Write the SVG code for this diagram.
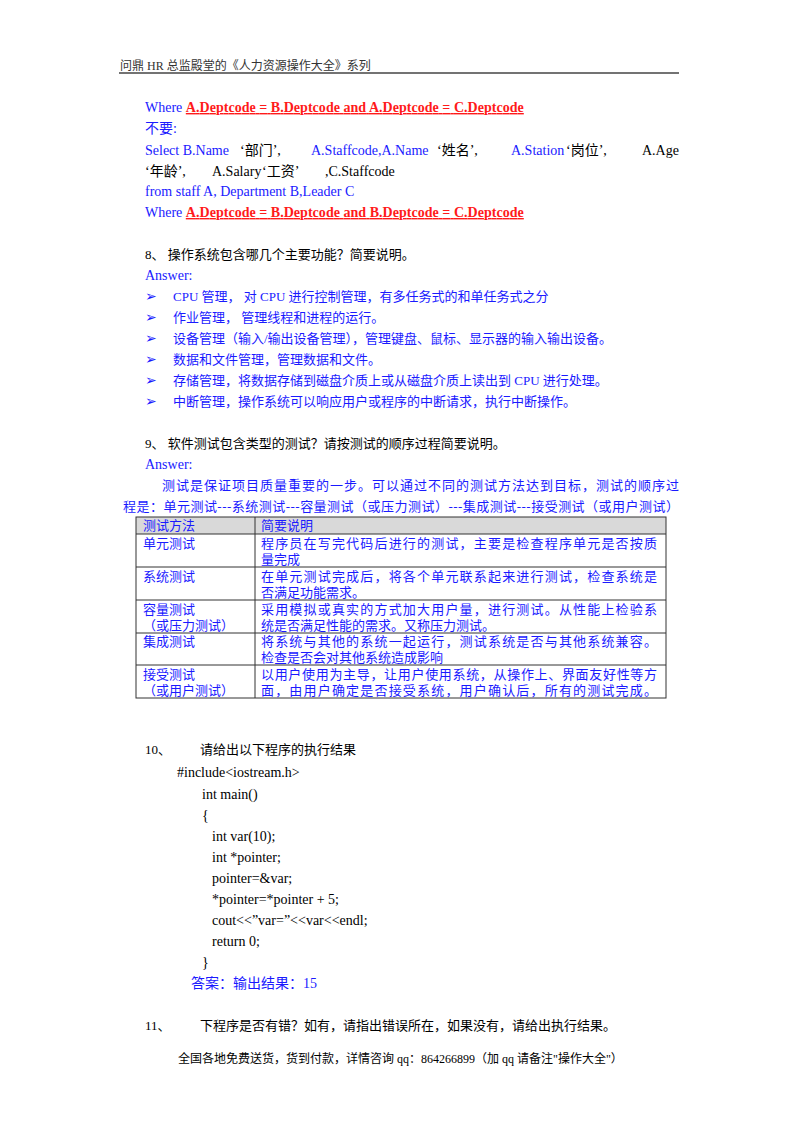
<svg xmlns="http://www.w3.org/2000/svg" width="800" height="1132" viewBox="0 0 800 1132">
<style>
text{font-family:"Liberation Serif","Noto Sans CJK SC",serif;font-size:14px;fill:#000}
.b{fill:#1a1aff}.r{fill:#ff1a1a;font-weight:bold;text-decoration:underline}
.s{font-size:13px}
line.g{stroke:#333;stroke-width:1}
</style>
<rect width="800" height="1132" fill="#fff"/>
<text x="120" y="70" style="font-size:12px;fill:#333">问鼎 HR 总监殿堂的《人力资源操作大全》系列</text>
<line x1="119" y1="73" x2="679" y2="73" stroke="#444" stroke-width="1.5"/>
<text x="145" y="112"><tspan class="b">Where </tspan><tspan class="r" textLength="338" lengthAdjust="spacing">A.Deptcode = B.Deptcode and A.Deptcode = C.Deptcode</tspan></text>
<text x="145" y="133" class="b">不要:</text>
<text x="145" y="155" class="b">Select B.Name</text><text x="240" y="155">‘部门’,</text>
<text x="311" y="155" class="b">A.Staffcode,A.Name</text><text x="437" y="155">‘姓名’,</text>
<text x="511" y="155" class="b">A.Station</text><text x="566" y="155">‘岗位’,</text><text x="642" y="155">A.Age</text>
<text x="145" y="176">‘年龄’,</text><text x="212" y="176">A.Salary</text><text x="262" y="176">‘工资’</text><text x="325" y="176">,C.Staffcode</text>
<text x="145" y="196" class="b">from staff  A,  Department  B,Leader C</text>
<text x="145" y="217"><tspan class="b">Where </tspan><tspan class="r" textLength="338" lengthAdjust="spacing">A.Deptcode = B.Deptcode and B.Deptcode = C.Deptcode</tspan></text>
<text x="145" y="259" class="s">8、 操作系统包含哪几个主要功能？简要说明。</text>
<text x="145" y="280" class="b">Answer:</text>
<g>
<text x="145" y="301" class="b">➢</text><text x="173" y="301" class="b s">CPU 管理，  对 CPU 进行控制管理，有多任务式的和单任务式之分</text>
<text x="145" y="322" class="b">➢</text><text x="173" y="322" class="b s">作业管理，  管理线程和进程的运行。</text>
<text x="145" y="343" class="b">➢</text><text x="173" y="343" class="b s">设备管理（输入/输出设备管理），管理键盘、鼠标、显示器的输入输出设备。</text>
<text x="145" y="364" class="b">➢</text><text x="173" y="364" class="b s">数据和文件管理，管理数据和文件。</text>
<text x="145" y="385" class="b">➢</text><text x="173" y="385" class="b s">存储管理，将数据存储到磁盘介质上或从磁盘介质上读出到 CPU 进行处理。</text>
<text x="145" y="406" class="b">➢</text><text x="173" y="406" class="b s">中断管理，操作系统可以响应用户或程序的中断请求，执行中断操作。</text>
</g>
<text x="145" y="448" class="s">9、 软件测试包含类型的测试？请按测试的顺序过程简要说明。</text>
<text x="145" y="469" class="b">Answer:</text>
<text x="162" y="490" class="b s" textLength="517" lengthAdjust="spacing">测试是保证项目质量重要的一步。可以通过不同的测试方法达到目标，测试的顺序过</text>
<text x="123" y="511" class="b s" textLength="556" lengthAdjust="spacing">程是：单元测试---系统测试---容量测试（或压力测试）---集成测试---接受测试（或用户测试）</text>
<g id="table" class="s">
<rect x="136" y="517" width="530" height="17" fill="#d9d9d9"/>
<rect x="136" y="517" width="530" height="181" fill="none" stroke="#333"/>
<line class="g" x1="255" y1="517" x2="255" y2="698"/>
<line class="g" x1="136" y1="534" x2="666" y2="534"/>
<line class="g" x1="136" y1="567" x2="666" y2="567"/>
<line class="g" x1="136" y1="600" x2="666" y2="600"/>
<line class="g" x1="136" y1="633" x2="666" y2="633"/>
<line class="g" x1="136" y1="665" x2="666" y2="665"/>
<text x="143" y="530" class="b s">测试方法</text><text x="261" y="530" class="b s">简要说明</text>
<text x="143" y="548" class="b s">单元测试</text><text x="261" y="548" class="b s" textLength="396" lengthAdjust="spacing">程序员在写完代码后进行的测试，主要是检查程序单元是否按质</text><text x="261" y="564" class="b s">量完成</text>
<text x="143" y="581" class="b s">系统测试</text><text x="261" y="581" class="b s" textLength="396" lengthAdjust="spacing">在单元测试完成后，将各个单元联系起来进行测试，检查系统是</text><text x="261" y="597" class="b s">否满足功能需求。</text>
<text x="143" y="614" class="b s">容量测试</text><text x="143" y="630" class="b s">（或压力测试）</text><text x="261" y="614" class="b s" textLength="396" lengthAdjust="spacing">采用模拟或真实的方式加大用户量，进行测试。从性能上检验系</text><text x="261" y="630" class="b s">统是否满足性能的需求。又称压力测试。</text>
<text x="143" y="646" class="b s">集成测试</text><text x="261" y="646" class="b s" textLength="396" lengthAdjust="spacing">将系统与其他的系统一起运行，测试系统是否与其他系统兼容。</text><text x="261" y="662" class="b s">检查是否会对其他系统造成影响</text>
<text x="143" y="679" class="b s">接受测试</text><text x="143" y="695" class="b s">（或用户测试）</text><text x="261" y="679" class="b s" textLength="396" lengthAdjust="spacing">以用户使用为主导，让用户使用系统，从操作上、界面友好性等方</text><text x="261" y="695" class="b s" textLength="396" lengthAdjust="spacing">面，由用户确定是否接受系统，用户确认后，所有的测试完成。</text>
</g>
<text x="145" y="754" class="s">10、</text><text x="200" y="754" class="s">请给出以下程序的执行结果</text>
<text x="177" y="777">#include&lt;iostream.h&gt;</text>
<text x="202" y="799">int main()</text>
<text x="202" y="820">{</text>
<text x="212" y="841">int var(10);</text>
<text x="212" y="862">int *pointer;</text>
<text x="212" y="883">pointer=&amp;var;</text>
<text x="212" y="904">*pointer=*pointer + 5;</text>
<text x="212" y="925">cout&lt;&lt;”var=”&lt;&lt;var&lt;&lt;endl;</text>
<text x="212" y="946">return 0;</text>
<text x="202" y="967">}</text>
<text x="191" y="988" class="b">答案：输出结果：15</text>
<text x="145" y="1030" class="s">11、</text><text x="200" y="1030" class="s">下程序是否有错？如有，请指出错误所在，如果没有，请给出执行结果。</text>
<text x="178" y="1063" style="font-size:12px">全国各地免费送货，货到付款，详情咨询 qq：864266899（加 qq 请备注"操作大全"）</text>
</svg>
